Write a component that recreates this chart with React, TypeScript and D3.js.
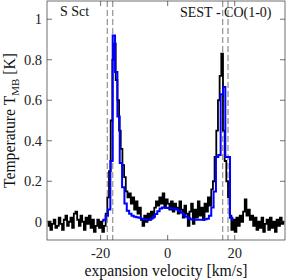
import React from "react";
import * as d3 from "d3";

// observed spectrum channel grid (km/s): first channel centre and channel width
const OBS_START = -35.75;
const OBS_WIDTH = 0.5;

// observed spectrum (black), one value per channel, K
const observed = [
  -0.02, 0.0, -0.04, -0.01, 0.01, -0.03, -0.02, 0.02, -0.01, -0.04,
  0.01, 0.03, -0.02, 0.0, 0.02, -0.03, 0.04, 0.05, 0.01, -0.02,
  0.03, 0.0, -0.04, 0.02, -0.01, 0.03, -0.03, 0.01, -0.05, -0.02,
  0.01, -0.03, 0.0, -0.05, -0.02, 0.04, 0.12, 0.25, 0.5, 0.8,
  0.88, 0.7, 0.6, 0.45, 0.36, 0.28, 0.22, 0.15, 0.12, 0.14,
  0.09, 0.12, 0.06, 0.1, 0.04, 0.07, 0.01, -0.02, 0.03, 0.0,
  0.04, 0.01, 0.05, 0.02, 0.07, 0.1, 0.08, 0.12, 0.09, 0.14,
  0.07, 0.11, 0.09, 0.06, 0.1, 0.05, 0.09, 0.07, 0.04, 0.1,
  0.06, 0.02, 0.08, 0.04, -0.02, 0.05, 0.09, -0.01, 0.06, 0.02,
  0.1, 0.03, 0.07, 0.01, 0.09, 0.05, 0.12, 0.08, 0.16, 0.2,
  0.32, 0.45, 0.6, 0.72, 0.83, 0.45, 0.3, 0.2, 0.12, 0.03,
  -0.04, 0.01, -0.05, 0.02, -0.02, 0.03, 0.0, 0.05, 0.11, 0.03,
  0.06, 0.01, 0.03, -0.02, 0.02, -0.04, 0.0, -0.03, 0.02, -0.05,
  -0.01, 0.01, -0.04, 0.02, -0.03, 0.0, -0.05, 0.01, -0.02, 0.02,
  -0.01, 0.0,
];

// model spectrum (blue) channel grid and values, K
const MODEL_START = -19.55;
const MODEL_WIDTH = 0.7;
const model = [
  0.005, 0.01, 0.03, 0.06, 0.3, 0.92, 0.74, 0.52, 0.29, 0.17,
  0.09, 0.055, 0.04, 0.03, 0.025, 0.022, 0.02, 0.015, 0.012, 0.01,
  0.01, 0.015, 0.025, 0.038, 0.052, 0.065, 0.07, 0.069, 0.068, 0.067,
  0.066, 0.064, 0.06, 0.055, 0.045, 0.035, 0.025, 0.018, 0.012, 0.01,
  0.01, 0.01, 0.01, 0.01, 0.012, 0.015, 0.03, 0.07, 0.15, 0.32,
  0.33, 0.63, 0.665, 0.32, 0.32, 0.02, 0.01,
];

const dashedVelocities = [-18, -16.4, 16.4, 18];
const xTicks = [-20, 0, 20];
const yTicks = [0, 0.2, 0.4, 0.6, 0.8, 1];
const yTickLabels = ["0", "0.2", "0.4", "0.6", "0.8", "1"];

const W = 289;
const H = 280;
const M = { left: 47, right: 285, top: 1, bottom: 240 };
const FONT = "'Liberation Serif', 'Times New Roman', serif";

export default function App() {
  const x = d3.scaleLinear().domain([-36, 35]).range([M.left, M.right]);
  const y = d3.scaleLinear().domain([-0.09, 1.09]).range([M.bottom, M.top]);

  const obsPts = observed.map((v, i) => [OBS_START + i * OBS_WIDTH, v] as [number, number]);
  const modPts = model.map((v, i) => [MODEL_START + i * MODEL_WIDTH, v] as [number, number]);

  const line = d3
    .line<[number, number]>()
    .x((d) => x(d[0]))
    .y((d) => y(d[1]))
    .curve(d3.curveStep);

  const tickLen = 5;
  const axisColor = "#333";

  return (
    <svg
      width={W}
      height={H}
      style={{ position: "absolute", left: 0, top: 0, background: "#fff" }}
      xmlns="http://www.w3.org/2000/svg"
    >
      <defs>
        <clipPath id="plot">
          <rect x={M.left} y={M.top} width={M.right - M.left} height={M.bottom - M.top} />
        </clipPath>
      </defs>
      <rect x={0} y={0} width={W} height={H} fill="#fff" />

      <g clipPath="url(#plot)">
        {dashedVelocities.map((v) => (
          <line
            key={v}
            x1={x(v)}
            x2={x(v)}
            y1={M.top}
            y2={M.bottom}
            stroke="#9a9a9a"
            strokeWidth={1.3}
            strokeDasharray="6,3"
          />
        ))}
        <path d={line(obsPts) || ""} fill="none" stroke="#000" strokeWidth={1.8} strokeLinejoin="miter" />
        <path d={line(modPts) || ""} fill="none" stroke="#0000ff" strokeWidth={2} strokeLinejoin="miter" />
      </g>

      {/* box */}
      <rect
        x={M.left}
        y={M.top}
        width={M.right - M.left}
        height={M.bottom - M.top}
        fill="none"
        stroke={axisColor}
        strokeWidth={0.7}
      />

      {/* x ticks */}
      {xTicks.map((t) => (
        <g key={"x" + t}>
          <line x1={x(t)} x2={x(t)} y1={M.bottom} y2={M.bottom - tickLen} stroke={axisColor} strokeWidth={0.7} />
          <line x1={x(t)} x2={x(t)} y1={M.top} y2={M.top + tickLen} stroke={axisColor} strokeWidth={0.7} />
          <text x={x(t)} y={258} textAnchor="middle" fontFamily={FONT} fontSize={14.5} fill="#222">
            {t < 0 ? "-" + Math.abs(t) : String(t)}
          </text>
        </g>
      ))}

      {/* y ticks */}
      {yTicks.map((t, i) => (
        <g key={"y" + t}>
          <line x1={M.left} x2={M.left + tickLen} y1={y(t)} y2={y(t)} stroke={axisColor} strokeWidth={0.7} />
          <line x1={M.right} x2={M.right - tickLen} y1={y(t)} y2={y(t)} stroke={axisColor} strokeWidth={0.7} />
          <text x={42} y={y(t)} dy="0.35em" textAnchor="end" fontFamily={FONT} fontSize={14.5} fill="#222">
            {yTickLabels[i]}
          </text>
        </g>
      ))}

      {/* annotations */}
      <text x={60} y={16} fontFamily={FONT} fontSize={14} fill="#111">
        S Sct
      </text>
      <text x={180} y={17} fontFamily={FONT} fontSize={14} fill="#111">
        SEST - CO(1-0)
      </text>

      {/* axis labels */}
      <text
        x={(M.left + M.right) / 2}
        y={276}
        textAnchor="middle"
        fontFamily={FONT}
        fontSize={15.7}
        fill="#111"
      >
        expansion velocity [km/s]
      </text>
      <text
        transform={`translate(15, ${(M.top + M.bottom) / 2}) rotate(-90)`}
        textAnchor="middle"
        fontFamily={FONT}
        fontSize={15.7}
        fill="#111"
      >
        Temperature T
        <tspan fontSize={11} dy={4}>MB</tspan>
        <tspan dy={-4}> [K]</tspan>
      </text>
    </svg>
  );
}
